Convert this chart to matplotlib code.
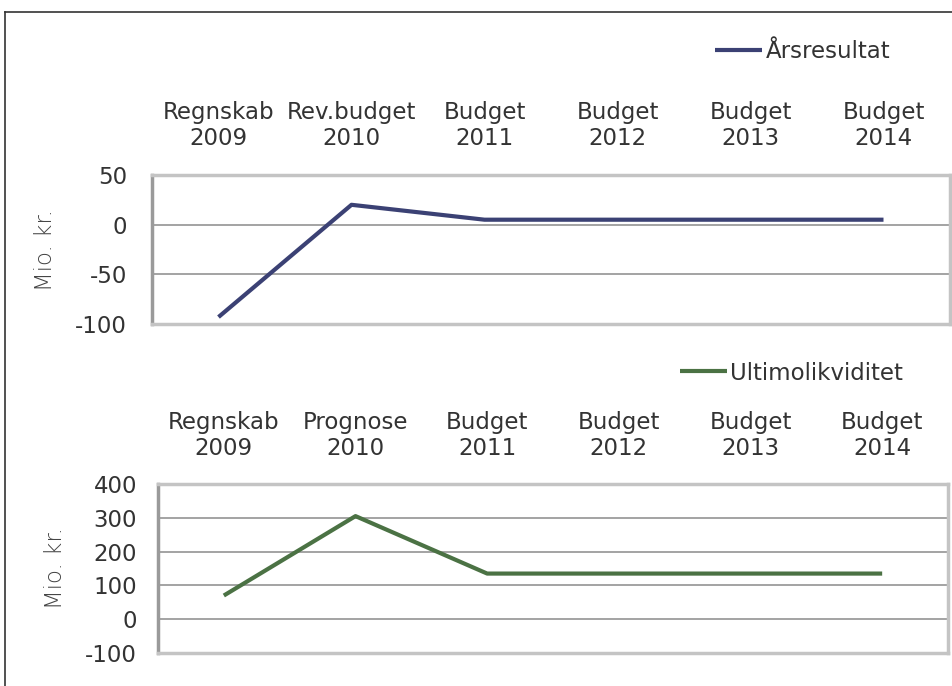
import matplotlib
matplotlib.use("Agg")
import matplotlib.pyplot as plt
from matplotlib.lines import Line2D

# Data
cats_top = ["Regnskab\n2009", "Rev.budget\n2010", "Budget\n2011", "Budget\n2012", "Budget\n2013", "Budget\n2014"]
vals_top = [-93, 20, 5, 5, 5, 5]
cats_bot = ["Regnskab\n2009", "Prognose\n2010", "Budget\n2011", "Budget\n2012", "Budget\n2013", "Budget\n2014"]
vals_bot = [70, 305, 135, 135, 135, 135]
yticks_top = [-100, -50, 0, 50]
yticks_bot = [-100, 0, 100, 200, 300, 400]
series_top = "Årsresultat"
series_bot = "Ultimolikviditet"

W, H = 952, 686
fig = plt.figure(figsize=(W / 100, H / 100), dpi=100)
fig.patch.set_facecolor("white")

FONT = ["DejaVu Sans"]
TXT = "#333333"
FS = 16.5

# outer frame
fig.add_artist(Line2D([5 / W, 1], [1 - 12 / H, 1 - 12 / H], transform=fig.transFigure, color="#333333", lw=1.2))
fig.add_artist(Line2D([5 / W, 5 / W], [0, 1 - 12 / H], transform=fig.transFigure, color="#333333", lw=1.2))


def make(rect, cats, vals, yticks, color, label, leg_xy, ylab_xy, xpad, ypad):
    l, t, r, b = rect
    ax = fig.add_axes([l / W, 1 - b / H, (r - l) / W, (b - t) / H])
    x = list(range(len(cats)))
    ax.plot(x, vals, color=color, lw=3, label=label, solid_capstyle="butt", zorder=3)
    ax.set_xlim(-0.5, len(cats) - 0.5)
    ax.set_ylim(yticks[0], yticks[-1])
    ax.set_yticks(yticks)
    ax.set_yticklabels([str(v) for v in yticks], fontsize=FS, family=FONT, color=TXT)
    ax.set_xticks(x)
    ax.xaxis.tick_top()
    ax.set_xticklabels(cats, fontsize=FS, family=FONT, color=TXT, linespacing=1.15)
    ax.tick_params(axis="x", length=0, pad=xpad)
    ax.tick_params(axis="y", length=0, pad=ypad)
    ax.grid(axis="y", color="#8a8a8a", lw=1.1)
    ax.set_axisbelow(True)
    for s in ["top", "bottom", "right"]:
        ax.spines[s].set_color("#c4c4c4")
        ax.spines[s].set_linewidth(2.5)
    ax.spines["left"].set_color("#9a9a9a")
    ax.spines["left"].set_linewidth(2.5)
    fig.text(ylab_xy[0] / W, 1 - ylab_xy[1] / H, "Mio. kr.", rotation=90, ha="center", va="center",
             fontsize=16.5, family=["DejaVu Sans"], color="#444444", fontweight="light")
    leg = ax.legend(loc="center left", bbox_to_anchor=(leg_xy[0] / W, 1 - leg_xy[1] / H),
                    bbox_transform=fig.transFigure, frameon=False, handlelength=2.05,
                    handletextpad=0.15, borderpad=0, borderaxespad=0,
                    prop={"family": FONT, "size": FS})
    for tx in leg.get_texts():
        tx.set_color(TXT)
    return ax


make((152, 175, 950, 324), cats_top, vals_top, yticks_top, "#3b4174", series_top, (715, 52), (45, 250), 18, 18)
make((158, 484, 948, 653), cats_bot, vals_bot, yticks_bot, "#4b7244", series_bot, (680, 373), (55, 568), 17.5, 15)

fig.savefig("out.png", dpi=100)
